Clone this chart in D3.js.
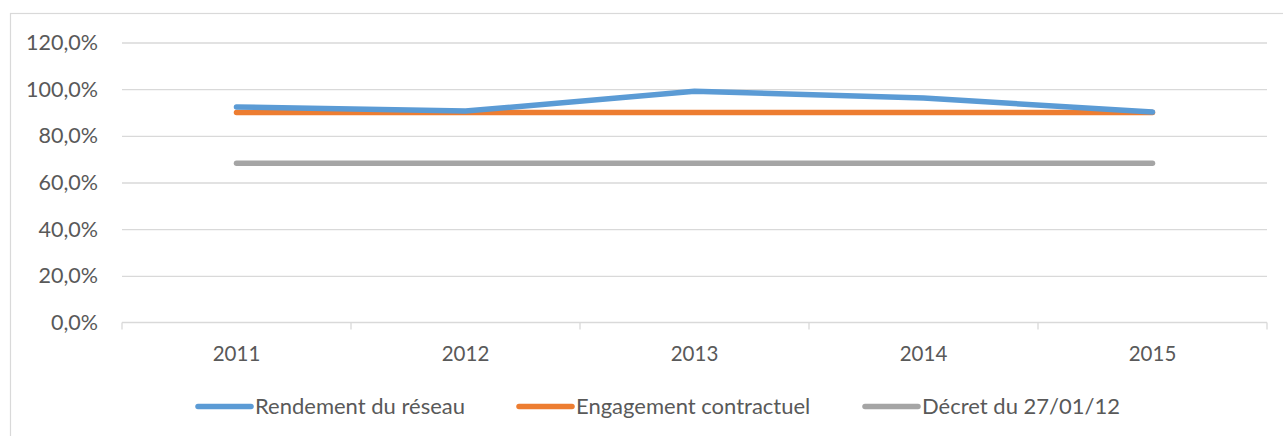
<!DOCTYPE html>
<html><head><meta charset="utf-8">
<script src="https://cdn.jsdelivr.net/npm/d3@7/dist/d3.min.js"></script>
<style>
body{margin:0;background:#fff;}
svg text{font-family:Lato,"Open Sans",sans-serif;fill:#595959;}
</style></head>
<body><svg id="c" width="1283" height="436"></svg>
<script>
const years = ["2011","2012","2013","2014","2015"];
const rendement = [92.4, 90.6, 99.1, 96.2, 90.2];
const engagement = [90.0, 90.0, 90.0, 90.0, 90.0];
const decret = [68.2, 68.2, 68.2, 68.2, 68.2];
const yTicks = [0, 20, 40, 60, 80, 100, 120];
const seriesNames = ["Rendement du réseau", "Engagement contractuel", "Décret du 27/01/12"];
const colors = ["#5B9BD5", "#ED7D31", "#A5A5A5"];

const series = [rendement, engagement, decret];
const svg = d3.select("#c");

svg.append("rect").attr("x",10.5).attr("y",13.5).attr("width",1300).attr("height",500)
  .attr("fill","#fff").attr("stroke","#d9d9d9").attr("stroke-width",1.2);

const x = d3.scaleBand().domain(years).range([122, 1267]);
const y = d3.scaleLinear().domain([0,120]).range([322.5, 42.5]);

// gridlines
const gAxisY = svg.append("g").attr("transform","translate(122,0)")
  .call(d3.axisLeft(y).tickValues(yTicks).tickSize(-(1267-122)).tickPadding(24)
    .tickFormat(d => d3.format(".1f")(d).replace(".", ",") + "%"));
gAxisY.select(".domain").remove();
gAxisY.selectAll(".tick line").attr("stroke","#d9d9d9").attr("stroke-width",1.3)
  .attr("display", d => d === 0 ? "none" : null);
gAxisY.selectAll("text").attr("font-size",21.5).style("fill","#595959").attr("font-family",null);

// x axis
const gx = svg.append("g").attr("transform","translate(0,322.5)");
gx.append("line").attr("x1",122).attr("x2",1267).attr("stroke","#d9d9d9").attr("stroke-width",1.3);
const bounds = years.map(d => x(d)).concat([x(years[years.length-1]) + x.bandwidth()]);
gx.selectAll(".tk").data(bounds).enter().append("line")
  .attr("x1",d=>d).attr("x2",d=>d).attr("y1",0).attr("y2",7)
  .attr("stroke","#d9d9d9").attr("stroke-width",1.3);
gx.selectAll(".lb").data(years).enter().append("text")
  .attr("x", d => x(d) + x.bandwidth()/2).attr("y", 38.5)
  .attr("text-anchor","middle").attr("font-size",20.5).text(d=>d);

// lines
const line = d3.line().x((d,i) => x(years[i]) + x.bandwidth()/2).y(d => y(d));
[2,1,0].forEach(k => {
  svg.append("path").datum(series[k]).attr("d", line)
    .attr("fill","none").attr("stroke",colors[k]).attr("stroke-width",5.5)
    .attr("stroke-linecap","round").attr("stroke-linejoin","round");
});

// legend
const legX = [198, 519, 865];
const leg = svg.append("g");
seriesNames.forEach((n,k) => {
  leg.append("line").attr("x1",legX[k]).attr("x2",legX[k]+53).attr("y1",406.5).attr("y2",406.5)
    .attr("stroke",colors[k]).attr("stroke-width",5.5).attr("stroke-linecap","round");
  leg.append("text").attr("x",legX[k]+57).attr("y",406.5).attr("dy","0.35em")
    .attr("font-size",22).text(n);
});
</script></body></html>
